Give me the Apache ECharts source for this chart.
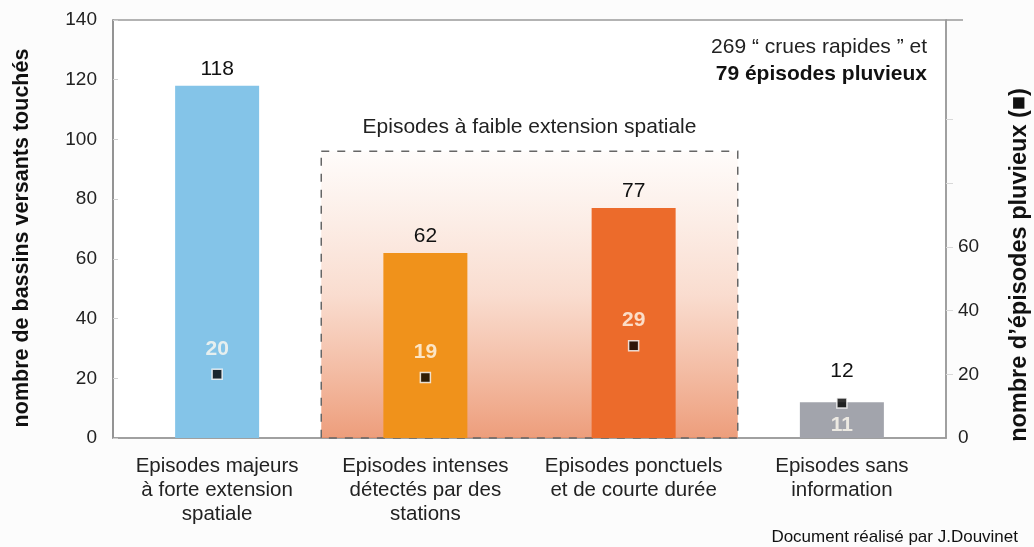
<!DOCTYPE html>
<html>
<head>
<meta charset="utf-8">
<script src="https://cdn.jsdelivr.net/npm/echarts@6/dist/echarts.min.js"></script>
<style>
  html, body { margin: 0; padding: 0; background: #fcfcfc; }
  #chart { width: 1034px; height: 547px; }
</style>
</head>
<body>
<div id="chart"></div>
<script>
// Types d'épisodes (catégories de l'axe horizontal)
const categories = [
  'Episodes majeurs\nà forte extension\nspatiale',
  'Episodes intenses\ndétectés par des\nstations',
  'Episodes ponctuels\net de courte durée',
  'Episodes sans\ninformation'
];
// Nombre de bassins versants touchés (barres, axe gauche)
const bassins = [118, 62, 77, 12];
// Nombre d'épisodes pluvieux (carrés noirs, axe droit)
const episodes = [20, 19, 29, 11];
const barColors = ['#84c4e8', '#f0921b', '#ec6b2b', '#a2a4ac'];
// Graduations
const leftTicks = [0, 20, 40, 60, 80, 100, 120, 140];
const rightLabels = [0, 20, 40, 60];
const rightTicks = [20, 40, 60, 80, 100];

const FONT = '"Liberation Sans", Arial, sans-serif';
const chart = echarts.init(document.getElementById('chart'), null, { renderer: 'canvas' });

const option = {
  backgroundColor: '#fcfcfc',
  animation: false,
  textStyle: { fontFamily: FONT },
  grid: {
    left: 113, right: 88, top: 20, bottom: 109,
    show: true, backgroundColor: '#ffffff', borderColor: '#9a9a9a', borderWidth: 1.5
  },
  xAxis: {
    type: 'category',
    data: categories,
    axisLine: { show: true, lineStyle: { color: '#9a9a9a', width: 1.5 } },
    axisTick: { show: false },
    axisLabel: {
      color: '#222', fontSize: 20.5, lineHeight: 24, margin: 16,
      fontFamily: FONT, interval: 0, align: 'center'
    }
  },
  yAxis: [
    {
      type: 'value', min: leftTicks[0], max: leftTicks[leftTicks.length - 1], interval: 20,
      axisLine: { show: true, lineStyle: { color: '#8a8a8a', width: 1.5 } },
      axisTick: { show: true, inside: true, length: 5, lineStyle: { color: '#d0d0d0' } },
      splitLine: { show: false },
      axisLabel: { color: '#222', fontSize: 19, margin: 16, fontFamily: FONT }
    },
    {
      type: 'value', min: 0, max: 131.25, position: 'right',
      axisLine: { show: true, lineStyle: { color: '#9a9a9a', width: 1.5 } },
      axisTick: { show: true, length: 7, customValues: rightTicks, lineStyle: { color: '#d8d8d8' } },
      splitLine: { show: false },
      axisLabel: { color: '#222', fontSize: 19, margin: 12, customValues: rightLabels, fontFamily: FONT }
    }
  ],
  series: [
    {
      type: 'bar',
      yAxisIndex: 0,
      barWidth: 84,
      z: 3,
      data: bassins.map((v, i) => ({
        value: v,
        itemStyle: { color: barColors[i] },
        label: i === 3 ? { distance: 20 } : {}
      })),
      label: {
        show: true, position: 'top', distance: 6,
        color: '#111', fontSize: 21, fontFamily: FONT
      }
    },
    {
      type: 'scatter',
      yAxisIndex: 1,
      symbol: 'rect',
      symbolSize: 10,
      z: 5,
      itemStyle: { color: '#000', borderColor: '#fff', borderWidth: 1.5 },
      data: episodes.map((v, i) => ({
        value: v,
        label: i === 3 ? { position: 'bottom', distance: 6 } : {}
      })),
      label: {
        show: true, position: 'top', distance: 9,
        color: '#fffaf0', fontSize: 21, fontWeight: 'bold', fontFamily: FONT
      }
    }
  ]
};
chart.setOption(option);

// Encadré "épisodes à faible extension spatiale" : couvre les catégories 2 et 3
const groupBoxTop = 96;
const cx = i => chart.convertToPixel({ xAxisIndex: 0 }, i);
const boxLeft = (cx(0) + cx(1)) / 2;
const boxRight = (cx(2) + cx(3)) / 2;
const boxTopPx = chart.convertToPixel({ yAxisIndex: 0 }, groupBoxTop);
const boxBottomPx = chart.convertToPixel({ yAxisIndex: 0 }, 0);
const gridRight = chart.convertToPixel({ xAxisIndex: 0 }, 3) + (cx(3) - cx(2)) / 2;
const gridTop = chart.convertToPixel({ yAxisIndex: 0 }, 140);

chart.setOption({
  graphic: [
    {
      type: 'rect', z: 1, silent: true,
      shape: { x: boxLeft, y: boxTopPx, width: boxRight - boxLeft, height: boxBottomPx - boxTopPx },
      style: {
        fill: new echarts.graphic.LinearGradient(0, 0, 0, 1, [
          { offset: 0, color: 'rgba(240,160,120,0.03)' },
          { offset: 0.5, color: 'rgba(238,150,110,0.33)' },
          { offset: 1, color: 'rgba(234,140,100,0.85)' }
        ]),
        stroke: '#666', lineWidth: 1.5, lineDash: [8, 8]
      }
    },
    {
      type: 'text', z: 6, silent: true,
      x: (boxLeft + boxRight) / 2, y: boxTopPx - 24,
      style: {
        text: 'Episodes à faible extension spatiale', fill: '#222',
        font: '21px ' + FONT, align: 'center', verticalAlign: 'middle'
      }
    },
    {
      type: 'line', z: 6, silent: true,
      shape: { x1: gridRight, y1: gridTop, x2: gridRight + 17, y2: gridTop },
      style: { stroke: '#9a9a9a', lineWidth: 1.5 }
    },
    {
      type: 'text', z: 6, silent: true, x: 927, y: 47,
      style: {
        text: '269 \u201C crues rapides \u201D et', fill: '#222',
        font: '21px ' + FONT, align: 'right', verticalAlign: 'middle'
      }
    },
    {
      type: 'text', z: 6, silent: true, x: 927, y: 74,
      style: {
        text: '79 épisodes pluvieux', fill: '#111',
        font: 'bold 21px ' + FONT, align: 'right', verticalAlign: 'middle'
      }
    },
    {
      type: 'text', z: 6, silent: true, x: 22, y: 238, rotation: Math.PI / 2,
      style: {
        text: 'nombre de bassins versants touchés', fill: '#111',
        font: 'bold 21.5px ' + FONT, align: 'center', verticalAlign: 'middle'
      }
    },
    {
      type: 'text', z: 6, silent: true, x: 1020, y: 265, rotation: Math.PI / 2,
      style: {
        text: 'nombre d\u2019épisodes pluvieux (\u25A0)', fill: '#111',
        font: 'bold 23.5px ' + FONT, align: 'center', verticalAlign: 'middle'
      }
    },
    {
      type: 'text', z: 6, silent: true, x: 1018, y: 537,
      style: {
        text: 'Document réalisé par J.Douvinet', fill: '#111',
        font: '17px ' + FONT, align: 'right', verticalAlign: 'middle'
      }
    }
  ]
});
</script>
</body>
</html>
